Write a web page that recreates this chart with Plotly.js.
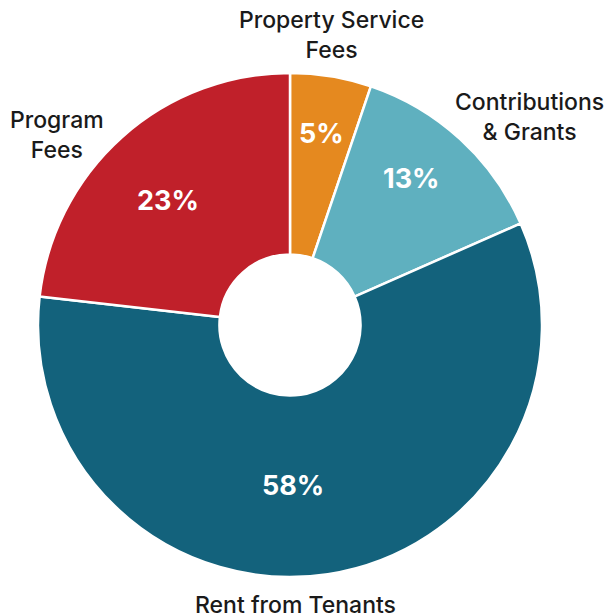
<!DOCTYPE html>
<html>
<head>
<meta charset="utf-8">
<script src="https://cdn.plot.ly/plotly-3.0.1.min.js"></script>
<style>html,body{margin:0;padding:0;background:#fff;}#chart{width:605px;height:616px;}</style>
</head>
<body>
<div id="chart"></div>
<script>
const categories = ["Property Service<br>Fees", "Contributions<br>& Grants", "Rent from Tenants", "Program<br>Fees"];
const shares = [5.2, 13.2, 58.4, 23.2];
const colors = ["#E5891F", "#5FB0BF", "#13627C", "#C0202A"];

const W = 605, H = 616;
const cx = 290, cy = 325, r = 252;
const domain = {
  x: [(cx - r) / W, (cx + r) / W],
  y: [(H - cy - r) / H, (H - cy + r) / H]
};

// label placement (pixels) for outside category labels and inside percentages
const labelPos = [[331, 35], [529, 117], [295, 605], [57, 135]];
const pctPos = [[321, 133], [411, 178], [293, 485], [168, 200]];

const total = shares.reduce((a, b) => a + b, 0);
const pctText = shares.map(v => Math.round(v / total * 100) + '%');

const pie = {
  type: 'pie',
  labels: categories,
  values: shares,
  sort: false,
  direction: 'clockwise',
  rotation: 0,
  hole: 0.28,
  domain: domain,
  hoverinfo: 'none',
  showlegend: false,
  textinfo: 'none',
  marker: {colors: colors, line: {color: '#ffffff', width: 2.5}}
};

const annotations = [];
categories.forEach((c, i) => {
  annotations.push({
    xref: 'paper', yref: 'paper',
    x: labelPos[i][0] / W, y: 1 - labelPos[i][1] / H,
    xanchor: 'center', yanchor: 'middle',
    text: c, showarrow: false,
    font: {family: 'Inter, sans-serif', size: 23, color: '#1a1a1a', weight: 500}
  });
  annotations.push({
    xref: 'paper', yref: 'paper',
    x: pctPos[i][0] / W, y: 1 - pctPos[i][1] / H,
    xanchor: 'center', yanchor: 'middle',
    text: '<b>' + pctText[i] + '</b>', showarrow: false,
    font: {family: 'Inter, sans-serif', size: 27, color: '#ffffff'}
  });
});

Plotly.newPlot('chart', [pie], {
  width: W, height: H,
  margin: {l: 0, r: 0, t: 0, b: 0},
  paper_bgcolor: '#ffffff',
  plot_bgcolor: '#ffffff',
  font: {family: 'Inter, sans-serif'},
  annotations: annotations
}, {staticPlot: true, displayModeBar: false});
</script>
</body>
</html>
